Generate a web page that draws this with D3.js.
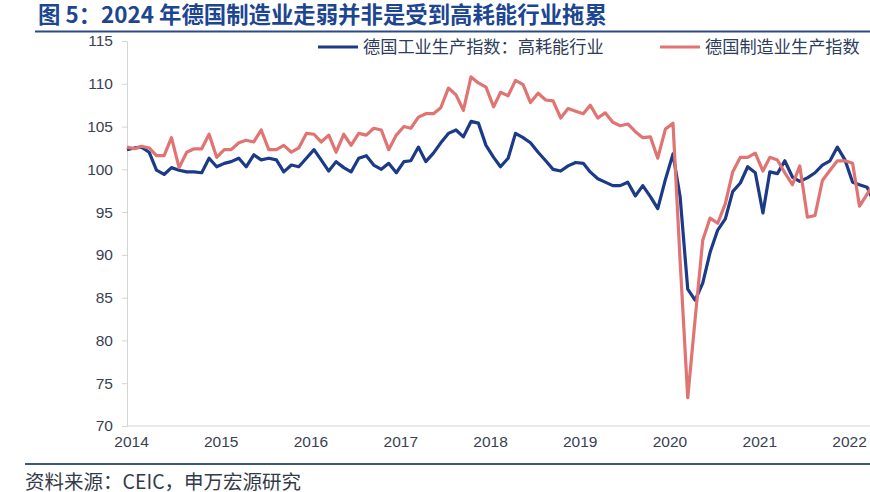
<!DOCTYPE html>
<html>
<head>
<meta charset="utf-8">
<script src="https://cdn.jsdelivr.net/npm/d3@7"></script>
<style>
  body { margin: 0; background: #fff; }
  svg { display: block; font-family: "Liberation Sans", Arial, "Noto Sans CJK SC", sans-serif; }
</style>
</head>
<body>
<svg width="870" height="492"></svg>
<script>
// monthly index values, Jan 2014 onwards
const energyIntensive = [
  102.3, 102.5, 102.6, 102.0, 99.9, 99.4, 100.2, 99.9, 99.7, 99.7,
  99.6, 101.3, 100.3, 100.7, 100.9, 101.3, 100.3, 101.7, 101.1, 101.3,
  101.1, 99.7, 100.5, 100.3, 101.3, 102.3, 101.1, 99.8, 100.9, 100.2,
  99.7, 101.3, 101.6, 100.5, 100.0, 100.7, 99.6, 100.9, 101.0, 102.6,
  100.9, 101.9, 103.1, 104.2, 104.6, 103.8, 105.6, 105.4, 102.8, 101.4,
  100.3, 101.3, 104.2, 103.7, 103.1, 102.0, 101.0, 100.0, 99.8, 100.4,
  100.8, 100.7, 99.7, 98.9, 98.5, 98.1, 98.1, 98.5, 96.9, 98.1,
  96.8, 95.4, 98.8, 101.8, 96.8, 86.0, 84.7, 86.7, 90.3, 92.9,
  94.2, 97.4, 98.4, 100.3, 99.6, 94.9, 99.7, 99.5, 101.0, 99.1,
  98.6, 99.0, 99.6, 100.5, 101.0, 102.6, 101.1, 98.5, 98.2, 97.9,
  96.0
];
const manufacturing = [
  102.6, 102.4, 102.7, 102.5, 101.6, 101.6, 103.7, 100.2, 102.0, 102.4,
  102.4, 104.1, 101.4, 102.3, 102.3, 103.1, 103.4, 103.2, 104.6, 102.3,
  102.3, 102.8, 102.0, 102.5, 104.2, 104.1, 103.2, 104.0, 102.0, 104.1,
  102.8, 104.2, 104.0, 104.8, 104.6, 102.3, 104.0, 105.0, 104.8, 106.1,
  106.5, 106.5, 107.2, 109.5, 108.7, 106.9, 110.8, 110.1, 109.6, 107.3,
  109.0, 108.6, 110.4, 109.9, 107.8, 108.9, 108.1, 108.0, 106.0, 107.1,
  106.8, 106.5, 107.5, 106.0, 106.6, 105.5, 105.1, 105.3, 104.4, 103.7,
  103.8, 101.3, 104.7, 105.4, 89.3, 73.3, 82.5, 91.7, 94.3, 93.7,
  96.0, 99.7, 101.4, 101.4, 101.9, 99.8, 101.4, 101.1, 99.6, 98.2,
  100.4, 94.4, 94.6, 98.7, 99.9, 101.0, 101.0, 100.7, 95.7, 97.1,
  98.5
];
const yearTicks = [2014, 2015, 2016, 2017, 2018, 2019, 2020, 2021, 2022];
const yTicks = [70, 75, 80, 85, 90, 95, 100, 105, 110, 115];
const seriesNames = ["德国工业生产指数：高耗能行业", "德国制造业生产指数"];
const seriesColors = ["#1b3a87", "#e07472"];
const title = "图 5：2024 年德国制造业走弱并非是受到高耗能行业拖累";
const source = "资料来源：CEIC，申万宏源研究";

const svg = d3.select("svg");
const start = new Date(2014, 0, 1);
const month = i => d3.timeMonth.offset(start, i);

const x = d3.scaleTime()
  .domain([new Date(2014, 0, 1), new Date(2022, 0, 1)])
  .range([127, 845]);
const y = d3.scaleLinear().domain([70, 115]).range([426, 41]);

// title + rules
svg.append("text")
  .attr("x", 38).attr("y", 23)
  .attr("fill", "#1c4592")
  .attr("font-size", 22.4).attr("font-weight", "bold")
  .attr("font-family", "'Noto Sans CJK SC', sans-serif")
  .text(title);
svg.append("line")
  .attr("x1", 35).attr("x2", 870).attr("y1", 31.5).attr("y2", 31.5)
  .attr("stroke", "#2b4a86").attr("stroke-width", 2);
svg.append("line")
  .attr("x1", 25).attr("x2", 870).attr("y1", 464).attr("y2", 464)
  .attr("stroke", "#3d5485").attr("stroke-width", 2);
svg.append("text")
  .attr("x", 25).attr("y", 489)
  .attr("fill", "#333a48")
  .attr("font-size", 19.5)
  .attr("font-family", "'Noto Sans CJK SC', sans-serif")
  .text(source);

// axes
const yAxis = svg.append("g")
  .attr("transform", "translate(127,0)")
  .call(d3.axisLeft(y).tickValues(yTicks).tickSize(5).tickPadding(9));
const xAxis = svg.append("g")
  .attr("transform", "translate(0,426)")
  .call(d3.axisBottom(x)
    .tickValues(yearTicks.map(yr => new Date(yr, 0, 1)))
    .tickFormat(d3.timeFormat("%Y"))
    .tickSize(0).tickPadding(10));
xAxis.select(".domain").attr("d", "M127,0H870");
[yAxis, xAxis].forEach(g => {
  g.selectAll(".domain, .tick line").attr("stroke", "#d4d4d4");
  g.selectAll("text")
    .attr("fill", "#3a4152")
    .attr("font-size", 15.5)
    .attr("font-family", "'Liberation Sans', Arial, sans-serif");
});
xAxis.selectAll(".tick text").attr("dx", 4);

// lines
const line = d3.line()
  .x((d, i) => x(month(i)))
  .y(d => y(d));

[energyIntensive, manufacturing].forEach((s, k) => {
  svg.append("path")
    .datum(s)
    .attr("fill", "none")
    .attr("stroke", seriesColors[k])
    .attr("stroke-width", 3.2)
    .attr("stroke-linejoin", "round")
    .attr("d", line);
});

// legend
const legendX = [318, 660];
seriesNames.forEach((name, k) => {
  const g = svg.append("g").attr("transform", `translate(${legendX[k]},47)`);
  g.append("line")
    .attr("x1", 0).attr("x2", 40)
    .attr("stroke", seriesColors[k]).attr("stroke-width", 3);
  g.append("text")
    .attr("x", 45).attr("y", 6)
    .attr("fill", "#2e3c5c")
    .attr("font-size", 17.2)
    .attr("font-family", "'Noto Sans CJK SC', sans-serif")
    .text(name);
});
</script>
</body>
</html>
